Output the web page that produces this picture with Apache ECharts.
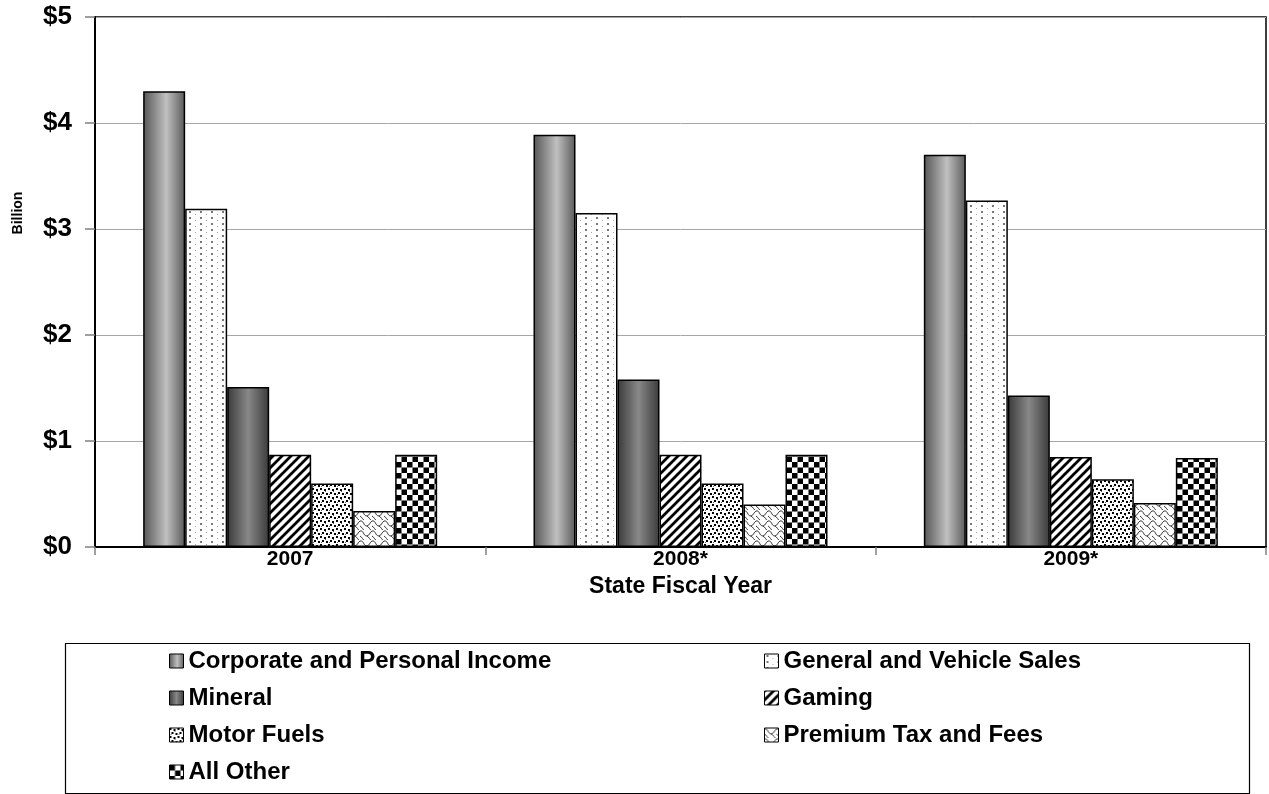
<!DOCTYPE html>
<html>
<head>
<meta charset="utf-8">
<script src="https://cdn.jsdelivr.net/npm/echarts@6/dist/echarts.min.js"></script>
<style>
html,body{margin:0;padding:0;background:#fff;}
#chart{width:1269px;height:794px;}
</style>
</head>
<body>
<div id="chart"></div>
<script>
// ---- Data ----
const categories = ['2007', '2008*', '2009*'];
const yTickLabels = ['$0', '$1', '$2', '$3', '$4', '$5'];
const seriesNames = ['Corporate and Personal Income', 'General and Vehicle Sales', 'Mineral', 'Gaming', 'Motor Fuels', 'Premium Tax and Fees', 'All Other'];
const corporateIncome = [4.30, 3.89, 3.70];
const generalSales = [3.19, 3.15, 3.27];
const mineral = [1.51, 1.58, 1.43];
const gaming = [0.87, 0.87, 0.85];
const motorFuels = [0.60, 0.60, 0.64];
const premiumTax = [0.34, 0.40, 0.415];
const allOther = [0.87, 0.87, 0.84];

// ---- Fill patterns ----
function makePattern(w, h, draw) {
  const c = document.createElement('canvas');
  c.width = w; c.height = h;
  const ctx = c.getContext('2d');
  ctx.fillStyle = '#fff';
  ctx.fillRect(0, 0, w, h);
  draw(ctx, w, h);
  return { image: c, repeat: 'repeat' };
}
const patGeneral = makePattern(11, 6, (ctx) => {
  ctx.fillStyle = '#777';
  ctx.fillRect(2, 1, 2, 2);
  ctx.fillStyle = '#aaa';
  ctx.fillRect(8, 4, 1, 1);
});
const patGaming = makePattern(9, 9, (ctx) => {
  ctx.strokeStyle = '#000';
  ctx.lineWidth = 2.8;
  ctx.beginPath();
  ctx.moveTo(-1, 10); ctx.lineTo(10, -1);
  ctx.moveTo(-5.5, 5.5); ctx.lineTo(5.5, -5.5);
  ctx.moveTo(3.5, 14.5); ctx.lineTo(14.5, 3.5);
  ctx.stroke();
});
const patMotor = makePattern(8, 8, (ctx) => {
  ctx.fillStyle = '#000';
  ctx.fillRect(0, 0, 2, 2);
  ctx.fillRect(4, 1, 2, 2);
  ctx.fillRect(2, 4, 2, 2);
  ctx.fillRect(6, 5, 2, 2);
  ctx.fillStyle = '#666';
  ctx.fillRect(5, 3, 1, 1);
  ctx.fillRect(1, 6, 1, 1);
});
const patPremium = makePattern(12, 10, (ctx) => {
  ctx.strokeStyle = '#333';
  ctx.lineWidth = 1;
  ctx.beginPath();
  ctx.moveTo(0, 1);
  ctx.bezierCurveTo(4, 0, 3, 6, 7, 6);
  ctx.bezierCurveTo(9, 6, 10, 2, 12, 1);
  ctx.moveTo(0, 6);
  ctx.bezierCurveTo(2, 7, 3, 10, 5, 11);
  ctx.moveTo(7, 6);
  ctx.bezierCurveTo(9, 7, 10, 10, 12, 11);
  ctx.stroke();
});
const patAllOther = makePattern(11, 11, (ctx) => {
  ctx.fillStyle = '#000';
  ctx.fillRect(0, 0, 5.5, 5.5);
  ctx.fillRect(5.5, 5.5, 5.5, 5.5);
});
const gradCorp = new echarts.graphic.LinearGradient(0, 0, 1, 0, [
  { offset: 0, color: '#555' },
  { offset: 0.55, color: '#c0c0c0' },
  { offset: 1, color: '#5a5a5a' }
]);
const gradMineral = new echarts.graphic.LinearGradient(0, 0, 1, 0, [
  { offset: 0, color: '#3a3a3a' },
  { offset: 0.5, color: '#888' },
  { offset: 1, color: '#3a3a3a' }
]);

const seriesData = [corporateIncome, generalSales, mineral, gaming, motorFuels, premiumTax, allOther];
const fills = [gradCorp, patGeneral, gradMineral, patGaming, patMotor, patPremium, patAllOther];

const FONT = 'Liberation Sans, Arial, sans-serif';

const chart = echarts.init(document.getElementById('chart'), null, { renderer: 'canvas' });
const legendCommon = {
  orient: 'vertical',
  itemWidth: 14,
  itemHeight: 14,
  itemGap: 13,
  icon: 'rect',
  selectedMode: false,
  itemStyle: { borderColor: '#000', borderWidth: 1 },
  textStyle: { fontFamily: FONT, fontWeight: 'bold', fontSize: 24, color: '#000', lineHeight: 24 }
};
chart.setOption({
  animation: false,
  backgroundColor: '#fff',
  grid: { left: 95, right: 3, top: 17, bottom: 247, show: true, borderColor: '#000', borderWidth: 1.5, containLabel: false },
  xAxis: {
    type: 'category',
    data: categories,
    axisLine: { lineStyle: { color: '#000', width: 2 } },
    axisTick: { show: true, length: 8, lineStyle: { color: '#808080', width: 1.5 } },
    axisLabel: { fontFamily: FONT, fontWeight: 'bold', fontSize: 21, color: '#000', margin: 2 },
    name: 'State Fiscal Year',
    nameLocation: 'middle',
    nameGap: 21,
    nameTextStyle: { fontFamily: FONT, fontWeight: 'bold', fontSize: 23, color: '#000' }
  },
  yAxis: {
    type: 'value',
    min: 0, max: 5, interval: 1,
    axisLine: { show: true, lineStyle: { color: '#000', width: 2 } },
    axisTick: { show: true, length: 10, lineStyle: { color: '#808080', width: 1.5 } },
    splitLine: { lineStyle: { color: '#a6a6a6', width: 1 } },
    axisLabel: {
      fontFamily: FONT, fontWeight: 'bold', fontSize: 26, color: '#000', margin: 23,
      formatter: (v) => yTickLabels[Math.round(v)]
    }
  },
  legend: [
    Object.assign({}, legendCommon, { left: 164, top: 644, data: [seriesNames[0], seriesNames[2], seriesNames[4], seriesNames[6]] }),
    Object.assign({}, legendCommon, { left: 759, top: 644, data: [seriesNames[1], seriesNames[3], seriesNames[5]] })
  ],
  graphic: [
    { type: 'rect', left: 63, top: 641, shape: { width: 1184, height: 150 }, style: { fill: 'none', stroke: '#000', lineWidth: 1.2 }, z: -1 },
    { type: 'text', x: 18, y: 213, rotation: Math.PI / 2, style: { text: 'Billion', fontFamily: FONT, fontWeight: 'bold', fontSize: 14, fill: '#000', align: 'center', verticalAlign: 'middle' } }
  ],
  series: seriesNames.map((name, i) => ({
    name: name,
    type: 'bar',
    data: seriesData[i],
    barWidth: 42,
    barGap: '0%',
    itemStyle: { color: fills[i], borderColor: '#000', borderWidth: 1.5 }
  }))
});
</script>
</body>
</html>
